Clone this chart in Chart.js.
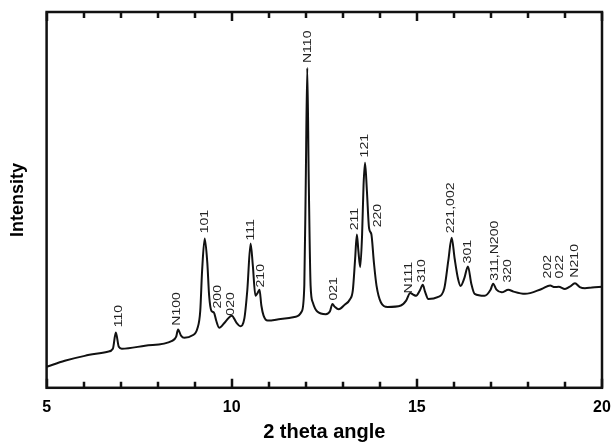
<!DOCTYPE html>
<html>
<head>
<meta charset="utf-8">
<script src="https://cdn.jsdelivr.net/npm/chart.js@4/dist/chart.umd.min.js"></script>
<style>
  html, body { margin: 0; padding: 0; background: #fff; }
  #wrap { width: 611px; height: 443px; }
</style>
</head>
<body>
<div id="wrap"><canvas id="xrd"></canvas></div>
<script>
/* XRD pattern */

// 2 theta (deg) and intensity (arb. units, 0-100)
const twoTheta = [5.00, 5.49, 6.03, 6.65, 6.79, 6.87, 6.95, 7.03, 7.66, 8.39,
  8.50, 8.55, 8.63, 8.72, 8.93, 9.07, 9.15, 9.20, 9.27, 9.34,
  9.39, 9.45, 9.52, 9.58, 9.66, 9.83, 10.00, 10.13, 10.23, 10.34,
  10.42, 10.51, 10.57, 10.64, 10.69, 10.75, 10.80, 10.86, 10.97, 11.32,
  11.73, 11.89, 11.96, 12.00, 12.04, 12.08, 12.13, 12.19, 12.31, 12.54,
  12.65, 12.72, 12.78, 12.89, 13.05, 13.19, 13.27, 13.33, 13.38, 13.42,
  13.47, 13.52, 13.56, 13.60, 13.65, 13.71, 13.77, 13.84, 13.91, 14.03,
  14.21, 14.57, 14.71, 14.82, 14.90, 14.98, 15.08, 15.16, 15.22, 15.31,
  15.56, 15.74, 15.85, 15.94, 16.02, 16.11, 16.18, 16.28, 16.38, 16.47,
  16.56, 16.83, 16.99, 17.06, 17.15, 17.29, 17.47, 17.61, 17.92, 18.37,
  18.60, 18.72, 18.83, 19.00, 19.13, 19.27, 19.40, 19.54, 19.73, 20.00];
const intensity = [5.6, 7.2, 8.5, 9.6, 10.4, 14.7, 10.9, 10.4, 11.2, 12.5,
  13.6, 15.5, 13.9, 13.3, 13.9, 15.7, 20.5, 31.2, 39.7, 33.3,
  24.5, 20.5, 20.0, 17.9, 16.0, 17.6, 19.2, 17.3, 16.4, 18.4,
  25.9, 38.4, 32.5, 24.5, 25.1, 26.1, 21.9, 19.2, 17.9, 18.3,
  18.9, 20.3, 27.2, 55.2, 85.1, 55.2, 27.2, 22.7, 20.3, 19.6,
  20.3, 22.3, 21.6, 20.9, 22.1, 23.5, 25.9, 33.9, 40.8, 36.5,
  32.1, 40.5, 53.9, 59.9, 52.5, 42.4, 40.9, 33.3, 27.2, 22.7,
  21.5, 21.9, 23.2, 25.2, 24.8, 24.5, 25.9, 27.4, 25.6, 23.6,
  24.1, 26.4, 33.9, 39.9, 34.4, 29.1, 27.1, 29.1, 32.3, 27.7,
  25.0, 24.5, 26.1, 27.7, 26.1, 25.4, 26.1, 25.6, 25.0, 26.3,
  27.2, 26.8, 26.9, 26.3, 26.9, 27.8, 26.8, 26.5, 26.7, 26.9];

// reflection labels: name, 2 theta, intensity where the text starts
const peakNames = ['110', 'N100', '101', '200', '020', '111', '210', 'N110', '021',
  '211', '121', '220', 'N111', '310', '221,002', '301', '311,N200', '320',
  '202', '022', 'N210'];
const peakX = [6.95, 8.53, 9.29, 9.64, 9.99, 10.53, 10.80, 12.06, 12.76,
  13.33, 13.61, 13.96, 14.80, 15.14, 15.93, 16.38, 17.10, 17.47,
  18.53, 18.87, 19.27];
const peakY = [16.1, 16.5, 41.1, 21.1, 19.2, 39.2, 26.7, 86.4, 23.2,
  41.9, 61.3, 42.7, 25.1, 28.0, 41.1, 33.1, 28.5, 28.0,
  29.1, 29.1, 29.3];

const xMin = 5, xMax = 20;

Chart.defaults.font.family = "'Liberation Sans', Arial, sans-serif";
Chart.defaults.color = '#000';

// frame + inward ticks + rotated peak labels
const framePlugin = {
  id: 'frame',
  afterDraw(chart) {
    const ctx = chart.ctx;
    const area = chart.chartArea;
    const xs = chart.scales.x;
    const ys = chart.scales.y;
    ctx.save();
    ctx.strokeStyle = '#111';
    ctx.lineWidth = 2.5;
    ctx.strokeRect(area.left, area.top, area.right - area.left, area.bottom - area.top);

    for (let v = xMin; v <= xMax; v++) {
      const px = Math.round(xs.getPixelForValue(v));
      const len = v % 5 === 0 ? 9 : 6;
      ctx.beginPath();
      ctx.moveTo(px, area.bottom);
      ctx.lineTo(px, area.bottom - len);
      ctx.moveTo(px, area.top);
      ctx.lineTo(px, area.top + len);
      ctx.stroke();
    }

    ctx.fillStyle = '#222';
    ctx.font = "11px 'Liberation Sans', Arial, sans-serif";
    ctx.textAlign = 'left';
    ctx.textBaseline = 'middle';
    for (let i = 0; i < peakNames.length; i++) {
      ctx.save();
      ctx.translate(xs.getPixelForValue(peakX[i]), ys.getPixelForValue(peakY[i]));
      ctx.rotate(-Math.PI / 2);
      ctx.scale(1.28, 1);
      ctx.fillText(peakNames[i], 0, 0);
      ctx.restore();
    }
    ctx.restore();
  }
};

new Chart(document.getElementById('xrd'), {
  type: 'line',
  data: {
    datasets: [{
      data: twoTheta.map((t, i) => ({ x: t, y: intensity[i] })),
      borderColor: '#111',
      borderWidth: 2,
      pointRadius: 0,
      cubicInterpolationMode: 'monotone',
      fill: false
    }]
  },
  options: {
    responsive: true,
    maintainAspectRatio: false,
    animation: false,
    layout: { padding: { top: 12, right: 0, bottom: 0, left: 0 } },
    plugins: { legend: { display: false }, tooltip: { enabled: false } },
    scales: {
      x: {
        type: 'linear',
        min: xMin,
        max: xMax,
        grid: { display: false, drawTicks: false },
        border: { display: false },
        ticks: { stepSize: 5, padding: 10, font: { size: 16, weight: 'bold' } },
        title: { display: true, text: '2 theta angle', font: { size: 20, weight: 'bold' },
          padding: { top: -7, bottom: -1 } },
        afterFit(scale) {
          // let the "20" label hang into the right margin
          scale.paddingRight = 9;
          scale.paddingLeft = 0;
        }
      },
      y: {
        min: 0,
        max: 100,
        grid: { display: false, drawTicks: false },
        border: { display: false },
        ticks: { display: false },
        title: { display: true, text: 'Intensity', font: { size: 18, weight: 'bold' },
          padding: { top: 7, bottom: 18 } }
      }
    }
  },
  plugins: [framePlugin]
});
</script>
</body>
</html>
